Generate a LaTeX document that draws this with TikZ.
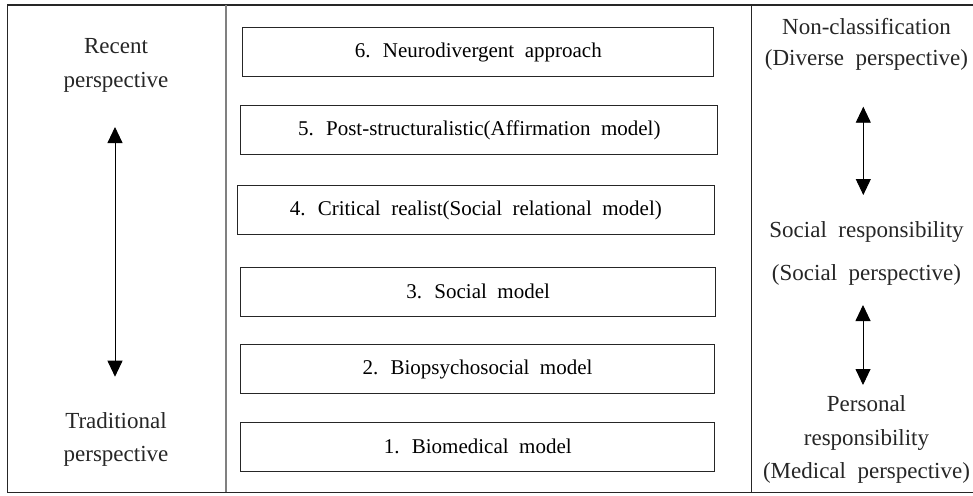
\documentclass[tikz,border=0pt]{standalone}
\usepackage{fontspec}
\setmainfont[WordSpace=2]{Liberation Serif}
\usetikzlibrary{arrows.meta}
\begin{document}
\begin{tikzpicture}[x=1pt,y=-1pt,
  frame/.style={draw=black!85,line width=1.4pt},
  lightdiv/.style={draw=black!50,line width=2pt},
  darkdiv/.style={draw=black!85,line width=1.3pt},
  modelbox/.style={draw=black!85,line width=1pt,minimum height=49pt,inner sep=0pt,
    font=\fontsize{21}{25}\selectfont},
  sidetext/.style={anchor=base,inner sep=0pt,font=\fontsize{23}{27}\selectfont,text=black!85},
  dblarrow/.style={line width=0.9pt,{Triangle[width=15pt,length=16pt]}-{Triangle[width=15pt,length=16pt]}}
]
\useasboundingbox (0,0) rectangle (973,495);
\fill[white] (0,0) rectangle (973,495);
% frame and dividers
\draw[frame] (973,5) -- (7.3,5) -- (7.3,492.3) -- (973,492.3);
\draw[lightdiv] (225.5,5) -- (225.5,492.3);
\draw[darkdiv] (751.5,5) -- (751.5,492.3);
% model boxes
\node[modelbox,minimum width=471.3pt] (m6) at (478.3,52.3) {6. Neurodivergent approach};
\node[modelbox,minimum width=477.3pt] (m5) at (479.3,130.3) {5. Post-structuralistic(Affirmation model)};
\node[modelbox,minimum width=477pt]   (m4) at (475.8,210.3) {4. Critical realist(Social relational model)};
\node[modelbox,minimum width=475pt]   (m3) at (478.2,291.8) {3. Social model};
\node[modelbox,minimum width=473.6pt] (m2) at (477.5,369.2) {2. Biopsychosocial model};
\node[modelbox,minimum width=474.3pt] (m1) at (477.8,446.8) {1. Biomedical model};
% left column
\node[sidetext] (rec1) at (116,53.3) {Recent};
\node[sidetext] (rec2) at (116,87.3) {perspective};
\node[sidetext] (tra1) at (116,428.3) {Traditional};
\node[sidetext] (tra2) at (116,461.7) {perspective};
\coordinate (la) at (115,127);
\coordinate (lb) at (115,376.7);
\draw[dblarrow] (la) -- (lb);
% right column
\node[sidetext] (nc1) at (866.5,35) {Non-classification};
\node[sidetext] (nc2) at (866.5,66) {(Diverse perspective)};
\node[sidetext] (sr1) at (866.5,237.3) {Social responsibility};
\node[sidetext] (sr2) at (866.5,280.5) {(Social perspective)};
\node[sidetext] (pr1) at (866.5,411.7) {Personal};
\node[sidetext] (pr2) at (866.5,445) {responsibility};
\node[sidetext] (pr3) at (866.5,478.3) {(Medical perspective)};
\coordinate (ra) at (863.3,106.7);
\coordinate (rb) at (863.3,195);
\coordinate (rc) at (863,305);
\coordinate (rd) at (863,385);
\draw[dblarrow] (ra) -- (rb);
\draw[dblarrow] (rc) -- (rd);
\end{tikzpicture}
\end{document}
